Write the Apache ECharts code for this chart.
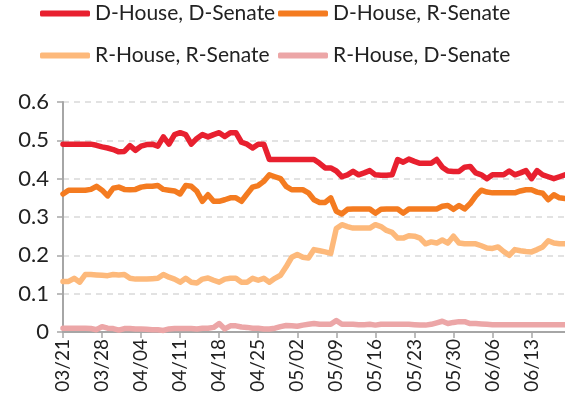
<!DOCTYPE html>
<html>
<head>
<meta charset="utf-8">
<script src="https://cdn.jsdelivr.net/npm/echarts@6/dist/echarts.min.js"></script>
<style>
  html, body { margin: 0; padding: 0; background: #fff; }
  #chart { width: 565px; height: 412px; }
</style>
</head>
<body>
<div id="chart"></div>
<script>
var dates = [
    "03/21", "03/22", "03/23", "03/24", "03/25", "03/26", "03/27", "03/28", "03/29", "03/30", "03/31",
    "04/01", "04/02", "04/03", "04/04", "04/05", "04/06", "04/07", "04/08", "04/09", "04/10",
    "04/11", "04/12", "04/13", "04/14", "04/15", "04/16", "04/17", "04/18", "04/19", "04/20",
    "04/21", "04/22", "04/23", "04/24", "04/25", "04/26", "04/27", "04/28", "04/29", "04/30",
    "05/01", "05/02", "05/03", "05/04", "05/05", "05/06", "05/07", "05/08", "05/09", "05/10",
    "05/11", "05/12", "05/13", "05/14", "05/15", "05/16", "05/17", "05/18", "05/19", "05/20",
    "05/21", "05/22", "05/23", "05/24", "05/25", "05/26", "05/27", "05/28", "05/29", "05/30",
    "05/31", "06/01", "06/02", "06/03", "06/04", "06/05", "06/06", "06/07", "06/08", "06/09",
    "06/10", "06/11", "06/12", "06/13", "06/14", "06/15", "06/16", "06/17", "06/18", "06/19"
];

var dHouseDSenate = [
    0.49, 0.49, 0.49, 0.49, 0.49, 0.49, 0.487, 0.483, 0.48, 0.476, 0.47,
    0.471, 0.486, 0.474, 0.485, 0.489, 0.49, 0.485, 0.509, 0.49, 0.515,
    0.52, 0.515, 0.49, 0.505, 0.515, 0.509, 0.515, 0.52, 0.51, 0.52,
    0.52, 0.495, 0.49, 0.48, 0.49, 0.49, 0.45, 0.45, 0.45, 0.45,
    0.45, 0.45, 0.45, 0.45, 0.45, 0.44, 0.428, 0.428, 0.42, 0.405,
    0.41, 0.419, 0.41, 0.415, 0.421, 0.41, 0.409, 0.409, 0.41, 0.45,
    0.443, 0.451, 0.445, 0.44, 0.44, 0.44, 0.45, 0.43, 0.42, 0.419,
    0.419, 0.43, 0.432, 0.415, 0.41, 0.40, 0.41, 0.41, 0.41, 0.42,
    0.41, 0.415, 0.421, 0.40, 0.421, 0.41, 0.405, 0.40, 0.405, 0.41
];

var dHouseRSenate = [
    0.36, 0.37, 0.37, 0.37, 0.37, 0.372, 0.38, 0.37, 0.355, 0.375, 0.378,
    0.372, 0.371, 0.372, 0.378, 0.38, 0.38, 0.382, 0.372, 0.37, 0.368,
    0.36, 0.382, 0.38, 0.367, 0.341, 0.358, 0.341, 0.341, 0.345, 0.35,
    0.35, 0.341, 0.36, 0.378, 0.382, 0.393, 0.41, 0.405, 0.40, 0.38,
    0.371, 0.371, 0.371, 0.363, 0.345, 0.338, 0.338, 0.35, 0.315, 0.308,
    0.32, 0.321, 0.321, 0.321, 0.321, 0.31, 0.32, 0.321, 0.321, 0.321,
    0.31, 0.321, 0.321, 0.321, 0.321, 0.321, 0.321, 0.328, 0.33, 0.32,
    0.33, 0.321, 0.335, 0.355, 0.37, 0.365, 0.363, 0.363, 0.363, 0.363,
    0.363, 0.368, 0.371, 0.371, 0.365, 0.362, 0.345, 0.358, 0.35, 0.348
];

var rHouseRSenate = [
    0.132, 0.132, 0.14, 0.13, 0.15, 0.15, 0.149, 0.148, 0.147, 0.15, 0.149,
    0.15, 0.14, 0.138, 0.138, 0.138, 0.139, 0.14, 0.15, 0.143, 0.138,
    0.13, 0.14, 0.13, 0.128, 0.138, 0.141, 0.135, 0.13, 0.138, 0.14,
    0.14, 0.13, 0.13, 0.14, 0.135, 0.14, 0.13, 0.14, 0.148, 0.17,
    0.195, 0.202, 0.195, 0.193, 0.215, 0.212, 0.209, 0.205, 0.27, 0.28,
    0.275, 0.271, 0.271, 0.271, 0.271, 0.28, 0.275, 0.265, 0.26, 0.245,
    0.245, 0.251, 0.25, 0.245, 0.23, 0.235, 0.232, 0.24, 0.232, 0.25,
    0.232, 0.23, 0.23, 0.23, 0.225, 0.219, 0.218, 0.222, 0.21, 0.20,
    0.215, 0.212, 0.21, 0.209, 0.215, 0.222, 0.238, 0.232, 0.23, 0.23
];

var rHouseDSenate = [
    0.01, 0.01, 0.01, 0.01, 0.01, 0.009, 0.006, 0.014, 0.01, 0.009, 0.005,
    0.009, 0.009, 0.008, 0.008, 0.007, 0.006, 0.006, 0.004, 0.008, 0.009,
    0.009, 0.009, 0.009, 0.008, 0.01, 0.01, 0.012, 0.022, 0.008, 0.016,
    0.016, 0.013, 0.012, 0.01, 0.01, 0.008, 0.008, 0.01, 0.014, 0.017,
    0.016, 0.015, 0.018, 0.02, 0.022, 0.02, 0.02, 0.02, 0.03, 0.02,
    0.02, 0.02, 0.019, 0.019, 0.02, 0.018, 0.02, 0.02, 0.02, 0.02,
    0.02, 0.02, 0.019, 0.018, 0.018, 0.02, 0.024, 0.028, 0.022, 0.025,
    0.027, 0.027, 0.022, 0.022, 0.021, 0.02, 0.019, 0.019, 0.019, 0.019,
    0.019, 0.019, 0.019, 0.019, 0.019, 0.019, 0.019, 0.019, 0.019, 0.019
];

var names = ["D-House, D-Senate", "D-House, R-Senate", "R-House, R-Senate", "R-House, D-Senate"];
var colors = ["#e8202f", "#f47b20", "#fdb97b", "#eca6a7"];
var seriesData = [dHouseDSenate, dHouseRSenate, rHouseRSenate, rHouseDSenate];

var font = "Lato, 'Open Sans', sans-serif";

function legendAt(i, left, top) {
    return {
        data: [names[i]],
        left: left,
        top: top,
        icon: "roundRect",
        itemWidth: 50,
        itemHeight: 6,
        itemGap: 0,
        padding: 0,
        textStyle: { fontFamily: font, fontSize: 21, color: "#222" },
    };
}

var chart = echarts.init(document.getElementById("chart"), null, { renderer: "canvas" });
chart.setOption({
    animation: false,
    color: colors,
    textStyle: { fontFamily: font },
    legend: [
        legendAt(0, 40, 3),
        legendAt(1, 278, 3),
        legendAt(2, 40, 45),
        legendAt(3, 278, 45),
    ],
    grid: { left: 63, right: 0, top: 102, bottom: 80, containLabel: false },
    xAxis: {
        type: "category",
        data: dates,
        boundaryGap: false,
        axisLine: { lineStyle: { color: "#a6a6a6", width: 2 } },
        axisTick: { show: true, interval: 6, length: 6, lineStyle: { color: "#a6a6a6", width: 1.5 } },
        axisLabel: { interval: 6, rotate: 90, fontSize: 19, color: "#222", margin: 7, fontFamily: font },
        splitLine: { show: false },
    },
    yAxis: {
        type: "value",
        min: 0,
        max: 0.6,
        interval: 0.1,
        axisLine: { show: true, lineStyle: { color: "#a6a6a6", width: 2 } },
        axisTick: { show: true, length: 6, lineStyle: { color: "#a6a6a6", width: 1.5 } },
        axisLabel: { fontSize: 22, color: "#222", margin: 14, fontFamily: font },
        splitLine: { lineStyle: { color: "#d9d9d9", type: [6, 5], width: 1.5 } },
    },
    series: seriesData.map(function (d, i) {
        return {
            name: names[i],
            type: "line",
            data: d,
            symbol: "none",
            lineStyle: { width: 5.5, color: colors[i], join: "round", cap: "round" },
            z: 10 - i,
        };
    }),
});
</script>
</body>
</html>
